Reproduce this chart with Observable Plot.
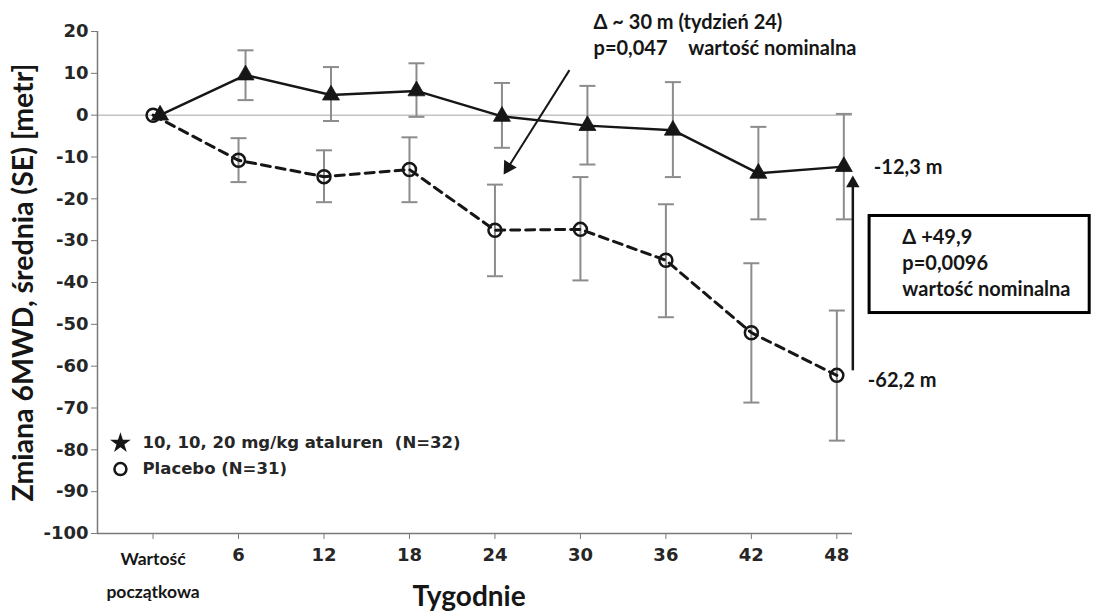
<!DOCTYPE html>
<html>
<head>
<meta charset="utf-8">
<script src="https://cdn.jsdelivr.net/npm/d3@7"></script>
<script src="https://cdn.jsdelivr.net/npm/@observablehq/plot@0.6"></script>
<style>
  html, body { margin: 0; padding: 0; background: #fff; }
  #chart { width: 1096px; height: 614px; }
</style>
</head>
<body>
<div id="chart"></div>
<script>
// ---- data ----
const weeks = [0, 6, 12, 18, 24, 30, 36, 42, 48];
const atalurenMean  = [0, 9.6, 4.8, 5.8, -0.3, -2.5, -3.6, -13.9, -12.3];
const atalurenUpper = [null, 15.5, 11.5, 12.4, 7.7, 7.0, 7.9, -2.8, 0.3];
const atalurenLower = [null, 3.6, -1.4, -0.4, -7.8, -11.8, -14.8, -24.9, -24.9];
const placeboMean   = [0, -10.8, -14.7, -13.0, -27.5, -27.3, -34.7, -52.0, -62.2];
const placeboUpper  = [null, -5.5, -8.4, -5.3, -16.6, -14.8, -21.3, -35.4, -46.7];
const placeboLower  = [null, -16.0, -20.8, -20.8, -38.5, -39.5, -48.3, -68.7, -77.8];
const yTicks = d3.range(-100, 21, 10);
const baselineLabel = "Wartość\npoczątkowa";
const seriesNames = ["10, 10, 20 mg/kg ataluren  (N=32)", "Placebo (N=31)"];
const endLabels = ["-12,3 m", "-62,2 m"];
const topNote = ["Δ ~ 30 m (tydzień 24)", "p=0,047", "wartość nominalna"];
const boxNote = ["Δ +49,9", "p=0,0096", "wartość nominalna"];
const yLabel = "Zmiana 6MWD, średnia (SE) [metr]";
const xLabel = "Tygodnie";

// annotation anchors (data coordinates)
const xDomain = [-3.9, 49.1];
const topArrow = {x1: 29.23, y1: 10.76, x2: 24.93, y2: -12.46};
const topNotePos = [{x: 30.92, y: 22.2}, {x: 30.92, y: 16.0}, {x: 37.57, y: 16.0}];
const boxRect = {x1: 50.3, x2: 65.75, y1: -24.1, y2: -47.3};
const boxTextPos = [{x: 52.6, y: -29.2}, {x: 52.6, y: -35.4}, {x: 52.6, y: -41.8}];
const legendPos = [{x: -2.29, y: -78.4, tx: -0.74}, {x: -2.29, y: -84.6, tx: -0.74}];
const deltaArrow = {x: 48, y1: -61.0, y2: -16.3};

// ---- tables ----
const ata = weeks.map((w, i) => ({w, m: atalurenMean[i], hi: atalurenUpper[i], lo: atalurenLower[i]}));
const pla = weeks.map((w, i) => ({w, m: placeboMean[i], hi: placeboUpper[i], lo: placeboLower[i]}));
const ataErr = ata.filter(d => d.hi != null);
const plaErr = pla.filter(d => d.hi != null);

const cap = {draw(ctx, size) { const w = Math.sqrt(size / Math.PI); ctx.moveTo(-w, 0); ctx.lineTo(w, 0); }};

const calibri = "Lato, 'Open Sans', sans-serif";
const arial = "'DejaVu Sans', sans-serif";
const ink = "#161616";
const gray = "#8c8c8c";
const OFF = 7; // ataluren horizontal offset

const plot = Plot.plot({
  width: 1096,
  height: 614,
  marginLeft: 97,
  marginRight: 244,
  marginTop: 31,
  marginBottom: 81,
  x: {type: "linear", domain: xDomain, axis: null},
  y: {domain: [-100, 20], axis: null},
  style: {fontFamily: arial, background: "#fff", color: ink},
  marks: [
    // zero line
    Plot.ruleY([0], {stroke: "#c4c4c4", strokeWidth: 1.5}),
    // axis lines
    Plot.ruleY([-100], {stroke: "#7a7a7a", strokeWidth: 1.5}),
    Plot.ruleX([xDomain[0]], {stroke: "#7a7a7a", strokeWidth: 1.5}),
    Plot.axisY({ticks: yTicks, tickSize: 6, tickPadding: 3, tickFormat: d => String(d), fontSize: 18, fontWeight: "bold", fontFamily: arial, stroke: "#7a7a7a", fill: "#262626", label: null}),
    Plot.axisX({ticks: weeks, tickSize: 6, tickPadding: 9, tickFormat: d => d === 0 ? "" : String(d), fontSize: 18, fontWeight: "bold", fontFamily: arial, stroke: "#7a7a7a", fill: "#262626", label: null}),
    Plot.text([baselineLabel], {x: weeks[0], y: -100, dy: 9, lineAnchor: "top", lineHeight: 1.85, fontFamily: calibri, fontWeight: "bold", fontSize: 17.5, fill: ink}),
    // error bars
    Plot.ruleX(plaErr, {x: "w", y1: "lo", y2: "hi", stroke: gray, strokeWidth: 2}),
    Plot.dot(plaErr, {x: "w", y: "hi", symbol: cap, r: 8, stroke: gray, strokeWidth: 2}),
    Plot.dot(plaErr, {x: "w", y: "lo", symbol: cap, r: 8, stroke: gray, strokeWidth: 2}),
    Plot.ruleX(ataErr, {x: "w", y1: "lo", y2: "hi", dx: OFF, stroke: gray, strokeWidth: 2}),
    Plot.dot(ataErr, {x: "w", y: "hi", dx: OFF, symbol: cap, r: 8, stroke: gray, strokeWidth: 2}),
    Plot.dot(ataErr, {x: "w", y: "lo", dx: OFF, symbol: cap, r: 8, stroke: gray, strokeWidth: 2}),
    // lines
    Plot.line(pla, {x: "w", y: "m", stroke: ink, strokeWidth: 3, strokeDasharray: "9,6"}),
    Plot.line(ata, {x: "w", y: "m", dx: OFF, stroke: ink, strokeWidth: 2.5}),
    // markers
    Plot.dot(pla, {x: "w", y: "m", r: 6.5, stroke: ink, strokeWidth: 2.5, fill: "none"}),
    Plot.dot(ata, {x: "w", y: "m", dx: OFF, symbol: "triangle", r: 6.3, fill: ink, stroke: ink, strokeWidth: 0.8}),
    // end labels
    Plot.text([endLabels[0]], {x: weeks[8], y: atalurenMean[8], dx: 37, dy: 1, textAnchor: "start", fontFamily: calibri, fontWeight: "bold", fontSize: 20, fill: ink}),
    Plot.text([endLabels[1]], {x: weeks[8], y: placeboMean[8], dx: 31, dy: 5, textAnchor: "start", fontFamily: calibri, fontWeight: "bold", fontSize: 20, fill: ink}),
    // delta arrow (vertical)
    Plot.link([deltaArrow], {x1: "x", x2: "x", y1: "y1", y2: "y2", dx: 16, stroke: ink, strokeWidth: 2.5}),
    Plot.dot([deltaArrow], {x: "x", y: "y2", dx: 16, symbol: "triangle", r: 5, fill: ink, stroke: "none"}),
    // top arrow
    Plot.link([topArrow], {x1: "x1", y1: "y1", x2: "x2", y2: "y2", stroke: ink, strokeWidth: 2}),
    Plot.dot([topArrow], {x: "x2", y: "y2", symbol: "triangle", r: 5.5, rotate: 212, fill: ink, stroke: "none"}),
    // top note
    Plot.text(topNote, {x: (d, i) => topNotePos[i].x, y: (d, i) => topNotePos[i].y, textAnchor: "start", fontFamily: calibri, fontWeight: "bold", fontSize: 20, fill: ink}),
    // box
    Plot.rect([boxRect], {x1: "x1", x2: "x2", y1: "y1", y2: "y2", fill: "#fff", stroke: "#000", strokeWidth: 3}),
    Plot.text(boxNote, {x: (d, i) => boxTextPos[i].x, y: (d, i) => boxTextPos[i].y, textAnchor: "start", fontFamily: calibri, fontWeight: "bold", fontSize: 20, fill: ink}),
    // legend
    Plot.dot([legendPos[0]], {x: "x", y: "y", symbol: "star", r: 6.5, fill: ink}),
    Plot.dot([legendPos[1]], {x: "x", y: "y", r: 6, stroke: ink, strokeWidth: 2.5, fill: "none"}),
    Plot.text(seriesNames, {x: (d, i) => legendPos[i].tx, y: (d, i) => legendPos[i].y, textAnchor: "start", fontFamily: arial, fontWeight: "bold", fontSize: 16.5, fill: "#262626"}),
    // axis titles
    Plot.text([yLabel], {frameAnchor: "left", textAnchor: "middle", dx: -74, rotate: -90, fontFamily: calibri, fontWeight: "bold", fontSize: 28.5, fill: ink}),
    Plot.text([xLabel], {frameAnchor: "bottom", textAnchor: "middle", dx: -6, dy: 72, fontFamily: calibri, fontWeight: "bold", fontSize: 28, fill: ink})
  ]
});
document.getElementById("chart").appendChild(plot);
</script>
</body>
</html>
